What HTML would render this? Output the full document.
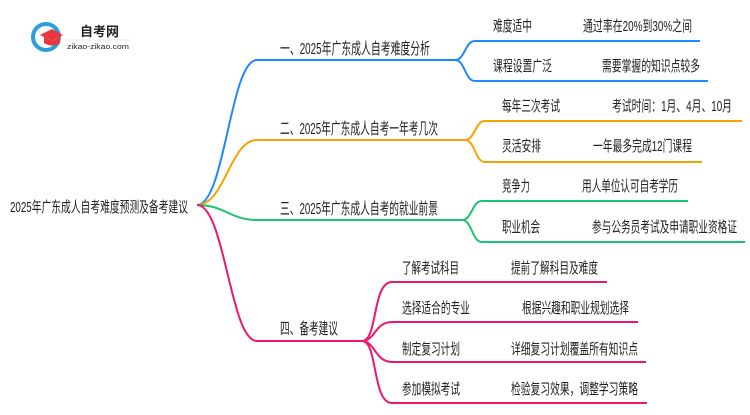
<!DOCTYPE html>
<html><head><meta charset="utf-8"><style>
body{margin:0;background:#fff;}
svg text{font-family:"Liberation Sans","Noto Sans CJK SC",sans-serif;fill:#222;}
</style></head><body>
<svg width="750" height="410" viewBox="0 0 750 410" xmlns="http://www.w3.org/2000/svg">
<rect width="750" height="410" fill="#fff"/>
<circle cx="46" cy="37" r="13" fill="none" stroke="#2a9fd8" stroke-width="4"/>
<polygon points="40,35 52,29 63,35 52,41" fill="#e8373e"/>
<path d="M44 37 v6 q8 5 16 0 v-6 l-8 4z" fill="#e8373e"/>
<text x="80" y="36" font-size="13" font-weight="bold" fill="#333">自考网</text>
<line x1="66" y1="40" x2="130" y2="40" stroke="#ccc" stroke-width="0.6"/>
<text x="67" y="49" font-size="7.5" fill="#555" textLength="62" lengthAdjust="spacingAndGlyphs">zikao-zikao.com</text>

<g fill="none" stroke-width="2">
<path d="M197 205 C225 205 230 60 257 60 H455" stroke="#1e88ff"/>
<path d="M455 60 C465 60 465 41 475 41 H700" stroke="#1e88ff"/>
<path d="M455 60 C465 60 465 81 475 81 H708" stroke="#1e88ff"/>
<path d="M197 205 C225 205 230 140 257 140 H465" stroke="#f5a300"/>
<path d="M465 140 C475 140 475 121 485 121 H742" stroke="#f5a300"/>
<path d="M465 140 C475 140 475 162 485 162 H702" stroke="#f5a300"/>
<path d="M197 205 C225 205 230 220 257 220 H462" stroke="#1ec36b"/>
<path d="M462 220 C472 220 472 201 482 201 H688" stroke="#1ec36b"/>
<path d="M462 220 C472 220 472 242 482 242 H745" stroke="#1ec36b"/>
<path d="M197 205 C225 205 230 341 257 341 H362" stroke="#f0166e"/>
<path d="M362 341 C378 341 372 282 392 282 H607" stroke="#f0166e"/>
<path d="M362 341 C375 341 375 322 392 322 H638" stroke="#f0166e"/>
<path d="M362 341 C375 341 375 362 392 362 H646" stroke="#f0166e"/>
<path d="M362 341 C378 341 372 403 392 403 H647" stroke="#f0166e"/>
</g>

<text x="10" y="212" font-size="15" textLength="178" lengthAdjust="spacingAndGlyphs">2025年广东成人自考难度预测及备考建议</text>

<text x="280" y="54" font-size="16" textLength="150" lengthAdjust="spacingAndGlyphs">一、2025年广东成人自考难度分析</text>
<text x="280" y="134" font-size="16" textLength="158" lengthAdjust="spacingAndGlyphs">二、2025年广东成人自考一年考几次</text>
<text x="280" y="214" font-size="16" textLength="158" lengthAdjust="spacingAndGlyphs">三、2025年广东成人自考的就业前景</text>
<text x="280" y="334" font-size="16" textLength="58" lengthAdjust="spacingAndGlyphs">四、备考建议</text>

<g font-size="15">
<text x="493" y="31" textLength="39" lengthAdjust="spacingAndGlyphs">难度适中</text>
<text x="583" y="31" textLength="109" lengthAdjust="spacingAndGlyphs">通过率在20%到30%之间</text>
<text x="493" y="71" textLength="59" lengthAdjust="spacingAndGlyphs">课程设置广泛</text>
<text x="602" y="71" textLength="98" lengthAdjust="spacingAndGlyphs">需要掌握的知识点较多</text>
<text x="502" y="111" textLength="58" lengthAdjust="spacingAndGlyphs">每年三次考试</text>
<text x="612" y="111" textLength="120" lengthAdjust="spacingAndGlyphs">考试时间：1月、4月、10月</text>
<text x="502" y="151" textLength="39" lengthAdjust="spacingAndGlyphs">灵活安排</text>
<text x="593" y="151" textLength="99" lengthAdjust="spacingAndGlyphs">一年最多完成12门课程</text>
<text x="502" y="191" textLength="28" lengthAdjust="spacingAndGlyphs">竞争力</text>
<text x="582" y="191" textLength="96" lengthAdjust="spacingAndGlyphs">用人单位认可自考学历</text>
<text x="502" y="232" textLength="38" lengthAdjust="spacingAndGlyphs">职业机会</text>
<text x="592" y="232" textLength="145" lengthAdjust="spacingAndGlyphs">参与公务员考试及申请职业资格证</text>
<text x="402" y="273" textLength="57" lengthAdjust="spacingAndGlyphs">了解考试科目</text>
<text x="511" y="273" textLength="87" lengthAdjust="spacingAndGlyphs">提前了解科目及难度</text>
<text x="402" y="313" textLength="68" lengthAdjust="spacingAndGlyphs">选择适合的专业</text>
<text x="522" y="313" textLength="107" lengthAdjust="spacingAndGlyphs">根据兴趣和职业规划选择</text>
<text x="402" y="354" textLength="58" lengthAdjust="spacingAndGlyphs">制定复习计划</text>
<text x="511" y="354" textLength="127" lengthAdjust="spacingAndGlyphs">详细复习计划覆盖所有知识点</text>
<text x="402" y="394" textLength="58" lengthAdjust="spacingAndGlyphs">参加模拟考试</text>
<text x="511" y="394" textLength="127" lengthAdjust="spacingAndGlyphs">检验复习效果，调整学习策略</text>
</g>
</svg>
</body></html>
